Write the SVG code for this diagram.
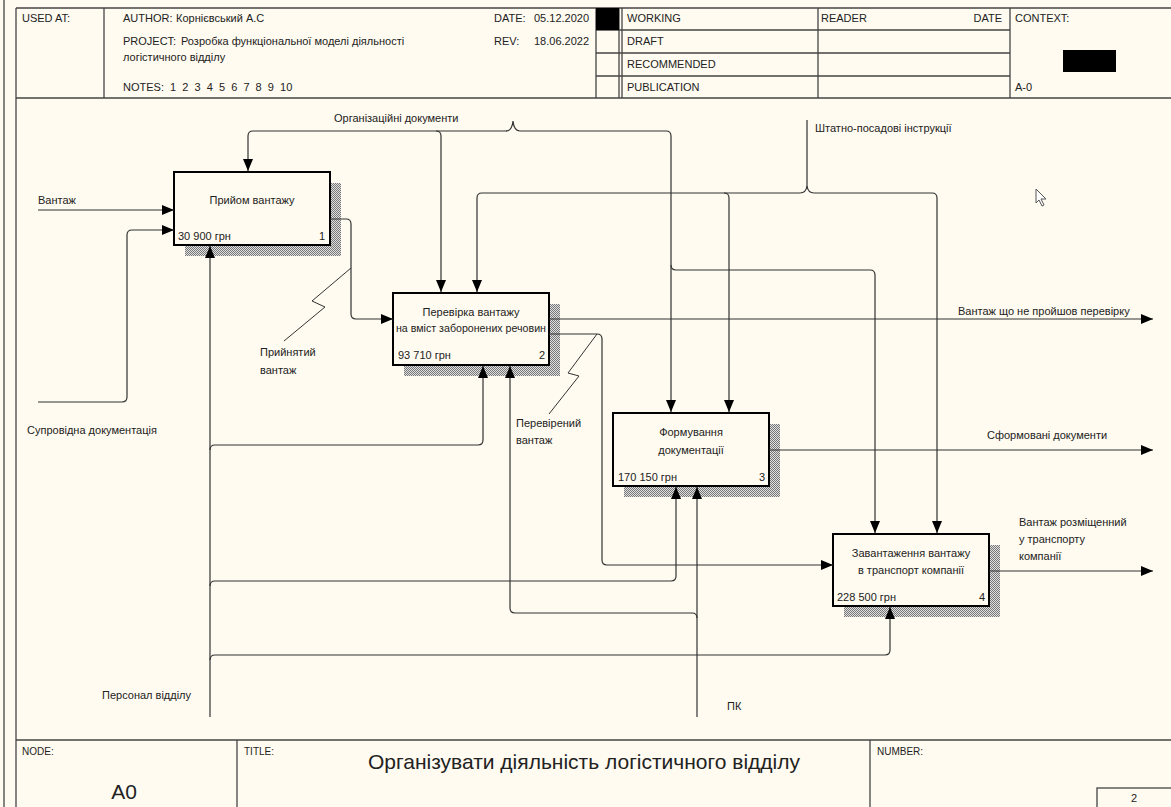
<svg xmlns="http://www.w3.org/2000/svg" width="1171" height="807" viewBox="0 0 1171 807">
<style>
text{font-family:"Liberation Sans",Arial,sans-serif;fill:#222;font-size:11px}
.sm{font-size:10px}
.big{font-size:21px}
.a0{font-size:21px}
.frame{stroke:#444;stroke-width:1.3;fill:none}
.box{fill:#FFFBF0;stroke:#000;stroke-width:2}
.shadow{fill:url(#hatch)}
.c{fill:none;stroke:#333;stroke-width:1.2}
.sq{fill:none;stroke:#333;stroke-width:1}
.arr{marker-end:url(#ah)}
.mid{text-anchor:middle}
.end{text-anchor:end}
</style>
<defs>
<pattern id="hatch" width="2" height="2" patternUnits="userSpaceOnUse">
<rect width="2" height="2" fill="#e0e0e0"/>
<rect width="1" height="1" fill="#777"/>
<rect x="1" y="1" width="1" height="1" fill="#777"/>
</pattern>
<marker id="ah" markerUnits="userSpaceOnUse" markerWidth="12" markerHeight="10" refX="12" refY="5" orient="auto">
<path d="M0,0 L12,5 L0,10 z" fill="#000"/>
</marker>
</defs>
<rect width="1171" height="807" fill="#FFFBF0"/>

<g id="frame">
<line class="frame" x1="4" y1="0" x2="4" y2="807"/>
<line class="frame" x1="16" y1="8" x2="16" y2="807"/>
<line class="frame" x1="16" y1="8" x2="1171" y2="8"/>
<line class="frame" x1="16" y1="98" x2="1171" y2="98"/>
<line class="frame" x1="104" y1="8" x2="104" y2="98"/>
<line class="frame" x1="596" y1="8" x2="596" y2="98"/>
<line class="frame" x1="619" y1="8" x2="619" y2="98"/>
<line class="frame" x1="622" y1="8" x2="622" y2="98"/>
<line class="frame" x1="818" y1="8" x2="818" y2="98"/>
<line class="frame" x1="1010" y1="8" x2="1010" y2="98"/>
<line class="frame" x1="596" y1="30" x2="1010" y2="30"/>
<line class="frame" x1="596" y1="53" x2="1010" y2="53"/>
<line class="frame" x1="596" y1="76" x2="1010" y2="76"/>
<rect x="596" y="8" width="23" height="22" fill="#000"/>
<rect x="1063" y="50" width="53" height="22" fill="#000"/>
<text x="22" y="22">USED AT:</text>
<text x="123" y="22">AUTHOR:</text>
<text x="176" y="22">Корнієвський А.С</text>
<text x="123" y="45">PROJECT:</text>
<text x="181" y="45">Розробка функціональної моделі діяльності</text>
<text x="123" y="61">логістичного відділу</text>
<text x="123" y="91">NOTES:</text>
<text x="170" y="91" xml:space="preserve">1  2  3  4  5  6  7  8  9  10</text>
<text x="494" y="22">DATE:</text>
<text x="534" y="22">05.12.2020</text>
<text x="494" y="45">REV:</text>
<text x="534" y="45">18.06.2022</text>
<text x="627" y="22">WORKING</text>
<text x="627" y="45">DRAFT</text>
<text x="627" y="68">RECOMMENDED</text>
<text x="627" y="91">PUBLICATION</text>
<text x="821" y="22">READER</text>
<text x="1002" y="22" class="end">DATE</text>
<text x="1015" y="22">CONTEXT:</text>
<text x="1015" y="91">A-0</text>

<line class="frame" x1="16" y1="740" x2="1171" y2="740"/>
<line class="frame" x1="237" y1="740" x2="237" y2="807"/>
<line class="frame" x1="870" y1="740" x2="870" y2="807"/>
<rect x="1097" y="788" width="80" height="25" class="frame"/>
<text x="22" y="755" class="sm">NODE:</text>
<text x="244" y="755" class="sm">TITLE:</text>
<text x="877" y="755" class="sm">NUMBER:</text>
<text x="124" y="799" class="mid a0">A0</text>
<text x="584" y="769" class="mid big">Організувати діяльність логістичного відділу</text>
<text x="1134" y="802" class="mid">2</text>
</g>

<g id="node1">
<rect class="shadow" x="185" y="183" width="156" height="73"/>
<rect class="box" x="174" y="172" width="156" height="73"/>
<text x="252" y="204" class="mid">Прийом вантажу</text>
<text x="178" y="240">30 900 грн</text>
<text x="325" y="240" class="end">1</text>
</g>
<g id="node2">
<rect class="shadow" x="404" y="304" width="156" height="72"/>
<rect class="box" x="393" y="293" width="156" height="72"/>
<text x="471" y="316" class="mid">Перевірка вантажу</text>
<text x="471" y="332" class="mid" textLength="150" lengthAdjust="spacingAndGlyphs">на вміст заборонених речовин</text>
<text x="398" y="359">93 710 грн</text>
<text x="545" y="359" class="end">2</text>
</g>
<g id="node3">
<rect class="shadow" x="624" y="424" width="156" height="73"/>
<rect class="box" x="613" y="413" width="156" height="73"/>
<text x="691" y="436" class="mid">Формування</text>
<text x="691" y="454" class="mid">документації</text>
<text x="618" y="481">170 150 грн</text>
<text x="765" y="481" class="end">3</text>
</g>
<g id="node4">
<rect class="shadow" x="844" y="545" width="156" height="72"/>
<rect class="box" x="833" y="534" width="156" height="72"/>
<text x="911" y="557" class="mid">Завантаження вантажу</text>
<text x="911" y="574" class="mid">в транспорт компанії</text>
<text x="837" y="601">228 500 грн</text>
<text x="985" y="601" class="end">4</text>
</g>

<g id="connectors">
<path class="c arr" d="M38,210 H174"/>
<path class="c arr" d="M38,402 H122 Q127,402 127,397 V235 Q127,230 132,230 H174"/>
<path class="c arr" d="M210,717 V246"/>
<path class="c arr" d="M210,450 Q210,445 215,445 H478 Q483,445 483,440 V366"/>
<path class="c arr" d="M210,586 Q210,581 215,581 H671 Q676,581 676,576 V487"/>
<path class="c arr" d="M210,660 Q210,655 215,655 H885 Q890,655 890,650 V607"/>
<path class="c arr" d="M697,717 V487"/>
<path class="c arr" d="M697,618 Q697,613 692,613 H515 Q510,613 510,608 V366"/>
<path class="c arr" d="M507,131 H253 Q248,131 248,136 V171"/>
<path class="c arr" d="M506,131 Q512,131 513,121 Q514,131 520,131 H666 Q671,131 671,136 V412"/>
<path class="c arr" d="M436,131 Q441,131 441,136 V292"/>
<path class="c arr" d="M671,265 Q671,270 676,270 H870 Q875,270 875,275 V533"/>
<path class="c arr" d="M807,120 V186 Q806,193 800,193 H482 Q477,193 477,198 V292"/>
<path class="c arr" d="M807,186 Q808,193 814,193 H932 Q937,193 937,198 V533"/>
<path class="c arr" d="M724,193 Q729,193 729,198 V412"/>
<path class="c arr" d="M330,219 H346 Q351,219 351,224 V314 Q351,319 356,319 H393"/>
<path class="c arr" d="M549,319 H1153"/>
<path class="c arr" d="M549,334 H597 Q602,334 602,339 V560 Q602,565 607,565 H833"/>
<path class="c arr" d="M769,450 H1153"/>
<path class="c arr" d="M989,571 H1153"/>
<polyline class="sq" points="351,268 312,301 325,307 284,341"/>
<polyline class="sq" points="597,334 568,373 579,376 549,414"/>
<text x="38" y="204">Вантаж</text>
<text x="27" y="434">Супровідна документація</text>
<text x="102" y="699">Персонал відділу</text>
<text x="727" y="710">ПК</text>
<text x="334" y="122">Організаційні документи</text>
<text x="815" y="132">Штатно-посадові інструкції</text>
<text x="260" y="356">Прийнятий</text>
<text x="260" y="374">вантаж</text>
<text x="516" y="427">Перевірений</text>
<text x="516" y="444">вантаж</text>
<text x="958" y="315">Вантаж що не пройшов перевірку</text>
<text x="987" y="439">Сформовані документи</text>
<text x="1019" y="526">Вантаж розміщенний</text>
<text x="1019" y="543">у транспорту</text>
<text x="1019" y="560">компанії</text>
</g>

<g id="cursor">
<path d="M1036,189 L1036,203 L1039,200 L1042,206 L1044,205 L1041,199 L1046,199 Z" fill="#fff" stroke="#555" stroke-width="1"/>
</g>
</svg>
